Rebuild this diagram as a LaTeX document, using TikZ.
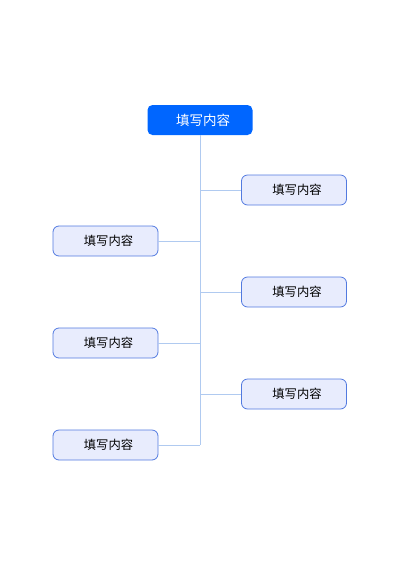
\documentclass[tikz,border=0pt]{standalone}
\usepackage{fontspec}
\setmainfont{Noto Sans CJK SC}
\usetikzlibrary{positioning}

\definecolor{topblue}{RGB}{0,102,255}
\definecolor{leaffill}{RGB}{232,236,253}
\definecolor{leafdraw}{RGB}{82,122,224}
\definecolor{linkblue}{RGB}{176,202,240}

\begin{document}
\begin{tikzpicture}[
    x=1pt, y=-1pt,
    rootbox/.style={
        fill=topblue,
        rounded corners=5pt,
        minimum width=105pt,
        minimum height=30pt,
        text=white,
        font=\fontsize{13.5}{15}\selectfont,
        execute at begin node=\hspace*{6pt},
    },
    leafbox/.style={
        draw=leafdraw,
        fill=leaffill,
        thick,
        rounded corners=6pt,
        minimum width=105pt,
        minimum height=30pt,
        font=\fontsize{12.3}{14}\selectfont,
        execute at begin node=\hspace*{6pt},
    },
    link/.style={
        draw=linkblue,
        line width=0.8pt,
    },
]

\useasboundingbox (0,0) rectangle (400,566);

\def\XL{105.5}  %centre of left boxes
\def\XR{294}    %centre of right boxes
\def\XM{200}    %trunk

\node[rootbox] (root) at (\XM,120) {填写内容};

\node[leafbox] (R1) at (\XR,190) {填写内容};
\node[leafbox] (L1) at (\XL,241) {填写内容};
\node[leafbox] (R2) at (\XR,292) {填写内容};
\node[leafbox] (L2) at (\XL,343) {填写内容};
\node[leafbox] (R3) at (\XR,394) {填写内容};
\node[leafbox] (L3) at (\XL,445) {填写内容};

%trunk and branches
\coordinate (end) at (\XM,445);
\draw[link] (root.south) -- (end);
\foreach \n in {R1,R2,R3}
    \draw[link] (\n.west) -- (\n.west -| root.south);
\foreach \n in {L1,L2,L3}
    \draw[link] (\n.east) -- (\n.east -| root.south);

\end{tikzpicture}
\end{document}
